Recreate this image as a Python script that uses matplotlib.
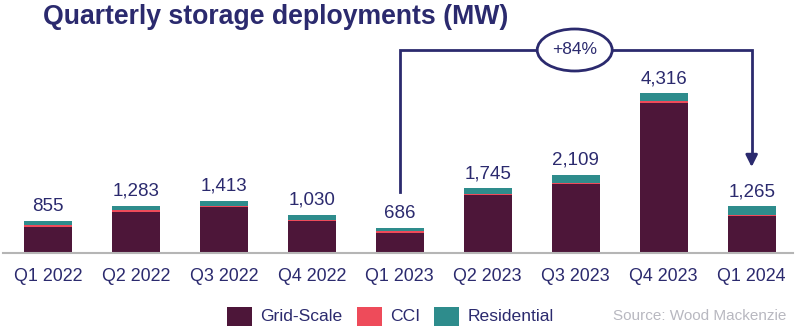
import matplotlib
matplotlib.use("Agg")
import matplotlib.pyplot as plt
import matplotlib.patches as mpatches
from matplotlib.patches import Ellipse

plt.rcParams['font.family'] = ['Liberation Sans', 'DejaVu Sans']

quarters = ["Q1 2022", "Q2 2022", "Q3 2022", "Q4 2022", "Q1 2023",
            "Q2 2023", "Q3 2023", "Q4 2023", "Q1 2024"]
totals = [855, 1283, 1413, 1030, 686, 1745, 2109, 4316, 1265]
grid_scale = [705, 1110, 1250, 855, 540, 1565, 1857, 4045, 990]
cci = [40, 45, 28, 45, 45, 27, 45, 50, 30]
residential = [t - g - c for t, g, c in zip(totals, grid_scale, cci)]
series_names = ["Grid-Scale", "CCI", "Residential"]
growth_label = "+84%"

NAVY = "#2b2a6e"
COLORS = ["#4d1639", "#ee4b5a", "#2e8c8c"]

W, H = 800, 331
fig = plt.figure(figsize=(W / 100, H / 100), dpi=100)

# axes placed in pixel terms: baseline at y=253, x from 3 to 793
base_px = 253
top_px = 40
ax = fig.add_axes([3 / W, (H - base_px) / H, 790 / W, (base_px - top_px) / H])
px_per_mw = (253 - 93.3) / 4316.0
ymax = (base_px - top_px) / px_per_mw
ax.set_ylim(0, ymax)
ax.set_xlim(-0.51, 8.47)

x = list(range(len(quarters)))
width = 0.545
ax.bar(x, grid_scale, width, color=COLORS[0], label=series_names[0])
ax.bar(x, cci, width, bottom=grid_scale, color=COLORS[1], label=series_names[1])
bottoms = [g + c for g, c in zip(grid_scale, cci)]
ax.bar(x, residential, width, bottom=bottoms, color=COLORS[2], label=series_names[2])

for xi, t in zip(x, totals):
    ax.text(xi, t + 6 / px_per_mw, f"{t:,}", ha="center", va="bottom",
            fontsize=13.5, color=NAVY)

for s in ["top", "right", "left"]:
    ax.spines[s].set_visible(False)
ax.spines["bottom"].set_color("#b5b5b5")
ax.spines["bottom"].set_linewidth(1.5)
ax.set_yticks([])
ax.set_xticks(x)
ax.set_xticklabels(quarters, fontsize=12.9, color=NAVY)
ax.tick_params(axis="x", length=0, pad=11)

# growth bracket from Q1 2023 to Q1 2024
def mw(py):
    return (base_px - py) / px_per_mw

i0, i1 = quarters.index("Q1 2023"), quarters.index("Q1 2024")
y_top = mw(50)
ax.plot([i0, i0, i1, i1], [mw(191.5), y_top, y_top, mw(160)],
        color=NAVY, lw=2, clip_on=False, solid_joinstyle="miter")
ax.annotate("", xy=(i1, mw(167)), xytext=(i1, mw(156)),
            arrowprops=dict(arrowstyle="-|>,head_length=0.7,head_width=0.35",
                            color=NAVY, lw=2, shrinkA=0, shrinkB=0),
            annotation_clip=False)
xc = (575 - 48) / 88.0
ell = Ellipse((xc, y_top), width=75 / 88.0, height=42 / px_per_mw,
              facecolor="white", edgecolor=NAVY, lw=2, clip_on=False, zorder=5)
ax.add_patch(ell)
ax.text(xc, y_top, growth_label, ha="center", va="center", fontsize=12.5,
        color=NAVY, zorder=6)

fig.text(43 / W, 1 - 17 / H, "Quarterly storage deployments (MW)",
         fontsize=19.2, fontweight="bold", color=NAVY, ha="left", va="center")

# legend
leg_y = 316.5
items = [(227, 260), (357, 390), (434, 468)]
for (sx, tx), name, col in zip(items, series_names, COLORS):
    fig.add_artist(mpatches.Rectangle((sx / W, (H - 326) / H), 25 / W, 19 / H,
                                      transform=fig.transFigure, facecolor=col,
                                      edgecolor="none"))
    fig.text(tx / W, 1 - leg_y / H, name, fontsize=12.6, color=NAVY,
             ha="left", va="center")

fig.text(613 / W, 1 - leg_y / H, "Source: Wood Mackenzie", fontsize=11,
         color="#b8b8c0", ha="left", va="center")

fig.savefig("out.png", dpi=100)
